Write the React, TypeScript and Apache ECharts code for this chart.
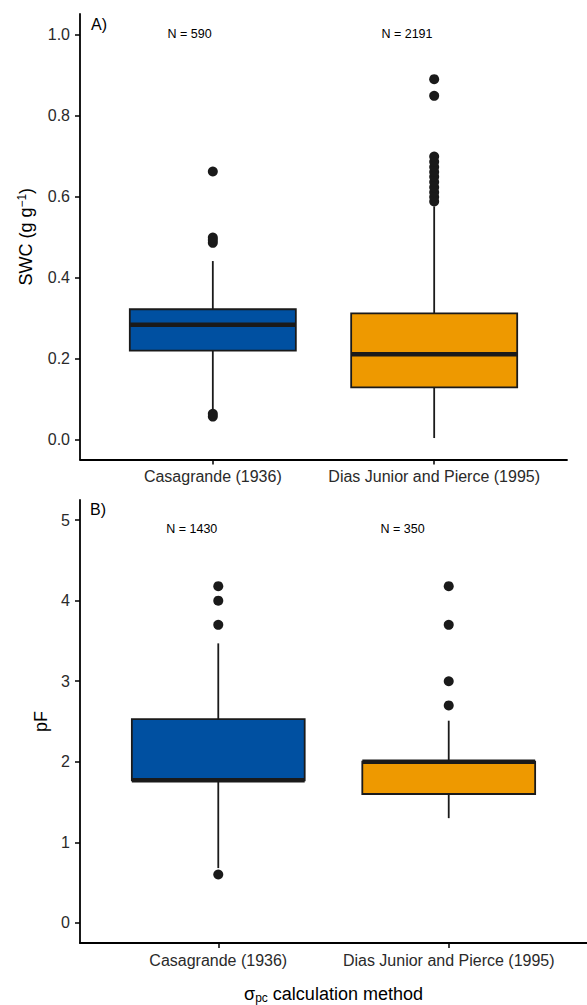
import React, { useEffect, useRef } from "react";
import * as echarts from "echarts";

const categories = ["Casagrande (1936)", "Dias Junior and Pierce (1995)"];
const boxFills = ["#0050A1", "#EE9900"];

// [lower whisker, Q1, median, Q3, upper whisker]
const swcBoxes = [
  [0.07, 0.219, 0.283, 0.321, 0.44],
  [0.003, 0.128, 0.21, 0.311, 0.575],
];
const swcOutliersCasagrande = [0.056, 0.063, 0.485, 0.492, 0.498, 0.661];
const swcOutliersDias = [0.587, 0.598, 0.61, 0.622, 0.635, 0.648, 0.66, 0.672, 0.685, 0.698, 0.848, 0.889];
const swcCounts = ["N = 590", "N = 2191"];
const swcTicks = [0, 0.2, 0.4, 0.6, 0.8, 1.0];

const pfBoxes = [
  [0.68, 1.77, 1.77, 2.53, 3.47],
  [1.3, 1.6, 2.0, 2.0, 2.51],
];
const pfOutliersCasagrande = [0.6, 3.7, 4.0, 4.18];
const pfOutliersDias = [2.7, 3.0, 3.7, 4.18];
const pfCounts = ["N = 1430", "N = 350"];
const pfTicks = [0, 1, 2, 3, 4, 5];

const FONT = "Liberation Sans";
const INK = "#1a1a1a";

function renderBox(params: any, api: any) {
  const x = api.value(0);
  const lo = api.coord([x, api.value(1)]);
  const q1 = api.coord([x, api.value(2)]);
  const med = api.coord([x, api.value(3)]);
  const q3 = api.coord([x, api.value(4)]);
  const hi = api.coord([x, api.value(5)]);
  const half = api.size([0.75, 0])[0] / 2;
  const cx = q1[0];
  return {
    type: "group",
    children: [
      { type: "line", shape: { x1: cx, y1: hi[1], x2: cx, y2: q3[1] }, style: { stroke: INK, lineWidth: 1.8 } },
      { type: "line", shape: { x1: cx, y1: q1[1], x2: cx, y2: lo[1] }, style: { stroke: INK, lineWidth: 1.8 } },
      {
        type: "rect",
        shape: { x: cx - half, y: q3[1], width: half * 2, height: q1[1] - q3[1] },
        style: { fill: boxFills[params.dataIndex], stroke: INK, lineWidth: 1.8 },
      },
      { type: "line", shape: { x1: cx - half, y1: med[1], x2: cx + half, y2: med[1] }, style: { stroke: INK, lineWidth: 4.5 } },
    ],
  };
}

function xAxisDef(gridIndex: number, withName: boolean) {
  return {
    type: "value",
    gridIndex,
    min: 0.4,
    max: 2.6,
    axisLine: { show: true, onZero: false, lineStyle: { color: "#000", width: 1.8 } },
    axisTick: { show: true, length: 5, customValues: [1, 2], lineStyle: { color: "#000", width: 1.5 } },
    axisLabel: {
      customValues: [1, 2],
      formatter: (v: number) => categories[Math.round(v) - 1],
      color: "#2a2a2a",
      fontSize: 16,
      fontFamily: FONT,
      margin: 9,
    },
    splitLine: { show: false },
    ...(withName
      ? {
          name: "σ{sub|pc} calculation method",
          nameLocation: "middle",
          nameGap: 41,
          nameTextStyle: {
            color: "#000",
            fontSize: 18,
            fontFamily: FONT,
            rich: { sub: { fontSize: 12, fontFamily: FONT, color: "#000", verticalAlign: "bottom", padding: [8, 0, 0, 0] } },
          },
        }
      : {}),
  };
}

function yAxisDef(gridIndex: number, min: number, max: number, ticks: number[], digits: number, name: string, nameGap: number) {
  return {
    type: "value",
    gridIndex,
    min,
    max,
    name,
    nameLocation: "middle",
    nameGap,
    nameRotate: 90,
    nameTextStyle: {
      color: "#000",
      fontSize: 18,
      fontFamily: FONT,
      rich: { sup: { fontSize: 12, fontFamily: FONT, color: "#000", verticalAlign: "top", padding: [0, 0, 8, 0] } },
    },
    axisLine: { show: true, onZero: false, lineStyle: { color: "#000", width: 1.8 } },
    axisTick: { show: true, length: 5, customValues: ticks, lineStyle: { color: "#000", width: 1.5 } },
    axisLabel: {
      customValues: ticks,
      formatter: (v: number) => v.toFixed(digits),
      color: "#2a2a2a",
      fontSize: 16,
      fontFamily: FONT,
      margin: 10,
    },
    splitLine: { show: false },
  };
}

function outlierSeries(axis: number, x: number, values: number[]) {
  return {
    type: "scatter",
    xAxisIndex: axis,
    yAxisIndex: axis,
    symbol: "circle",
    symbolSize: 10,
    itemStyle: { color: INK, opacity: 1 },
    data: values.map((v) => [x, v]),
    z: 5,
  };
}

function countSeries(axis: number, labels: string[], xs: number[], y: number) {
  return {
    type: "scatter",
    xAxisIndex: axis,
    yAxisIndex: axis,
    symbolSize: 0,
    silent: true,
    itemStyle: { opacity: 1 },
    label: {
      show: true,
      position: "inside",
      formatter: (p: any) => p.name,
      color: "#000",
      opacity: 1,
      fontSize: 12.5,
      fontFamily: FONT,
    },
    data: labels.map((t, i) => ({ name: t, value: [xs[i], y] })),
  };
}

export default function App() {
  const ref = useRef<HTMLDivElement>(null);
  useEffect(() => {
    if (!ref.current) return;
    const chart = echarts.init(ref.current, undefined, { renderer: "svg" });
    chart.setOption({
      animation: false,
      backgroundColor: "#fff",
      grid: [
        { left: 80, top: 14, width: 487, height: 445.5 },
        { left: 80, top: 500, width: 509, height: 444 },
      ],
      xAxis: [xAxisDef(0, false), xAxisDef(1, true)],
      yAxis: [
        yAxisDef(0, -0.05, 1.05, swcTicks, 1, "SWC (g g{sup|−1})", 44),
        yAxisDef(1, -0.25, 5.25, pfTicks, 0, "pF", 28),
      ],
      graphic: [
        { type: "text", left: 91, top: 16, style: { text: "A)", font: `16px '${FONT}'`, fill: "#000" } },
        { type: "text", left: 90, top: 501, style: { text: "B)", font: `16px '${FONT}'`, fill: "#000" } },
      ],
      series: [
        {
          type: "custom",
          xAxisIndex: 0,
          yAxisIndex: 0,
          renderItem: renderBox,
          encode: { x: 0, y: [1, 2, 3, 4, 5] },
          data: swcBoxes.map((b, i) => [i + 1, ...b]),
          clip: false,
        },
        outlierSeries(0, 1, swcOutliersCasagrande),
        outlierSeries(0, 2, swcOutliersDias),
        countSeries(0, swcCounts, [0.895, 1.877], 1.0),
        {
          type: "custom",
          xAxisIndex: 1,
          yAxisIndex: 1,
          renderItem: renderBox,
          encode: { x: 0, y: [1, 2, 3, 4, 5] },
          data: pfBoxes.map((b, i) => [i + 1, ...b]),
          clip: false,
        },
        outlierSeries(1, 1, pfOutliersCasagrande),
        outlierSeries(1, 2, pfOutliersDias),
        countSeries(1, pfCounts, [0.885, 1.8], 4.895),
      ],
    });
    return () => chart.dispose();
  }, []);
  return (
    <div
      ref={ref}
      style={{ position: "absolute", left: 0, top: 0, width: 587, height: 1005, background: "#fff" }}
    />
  );
}
